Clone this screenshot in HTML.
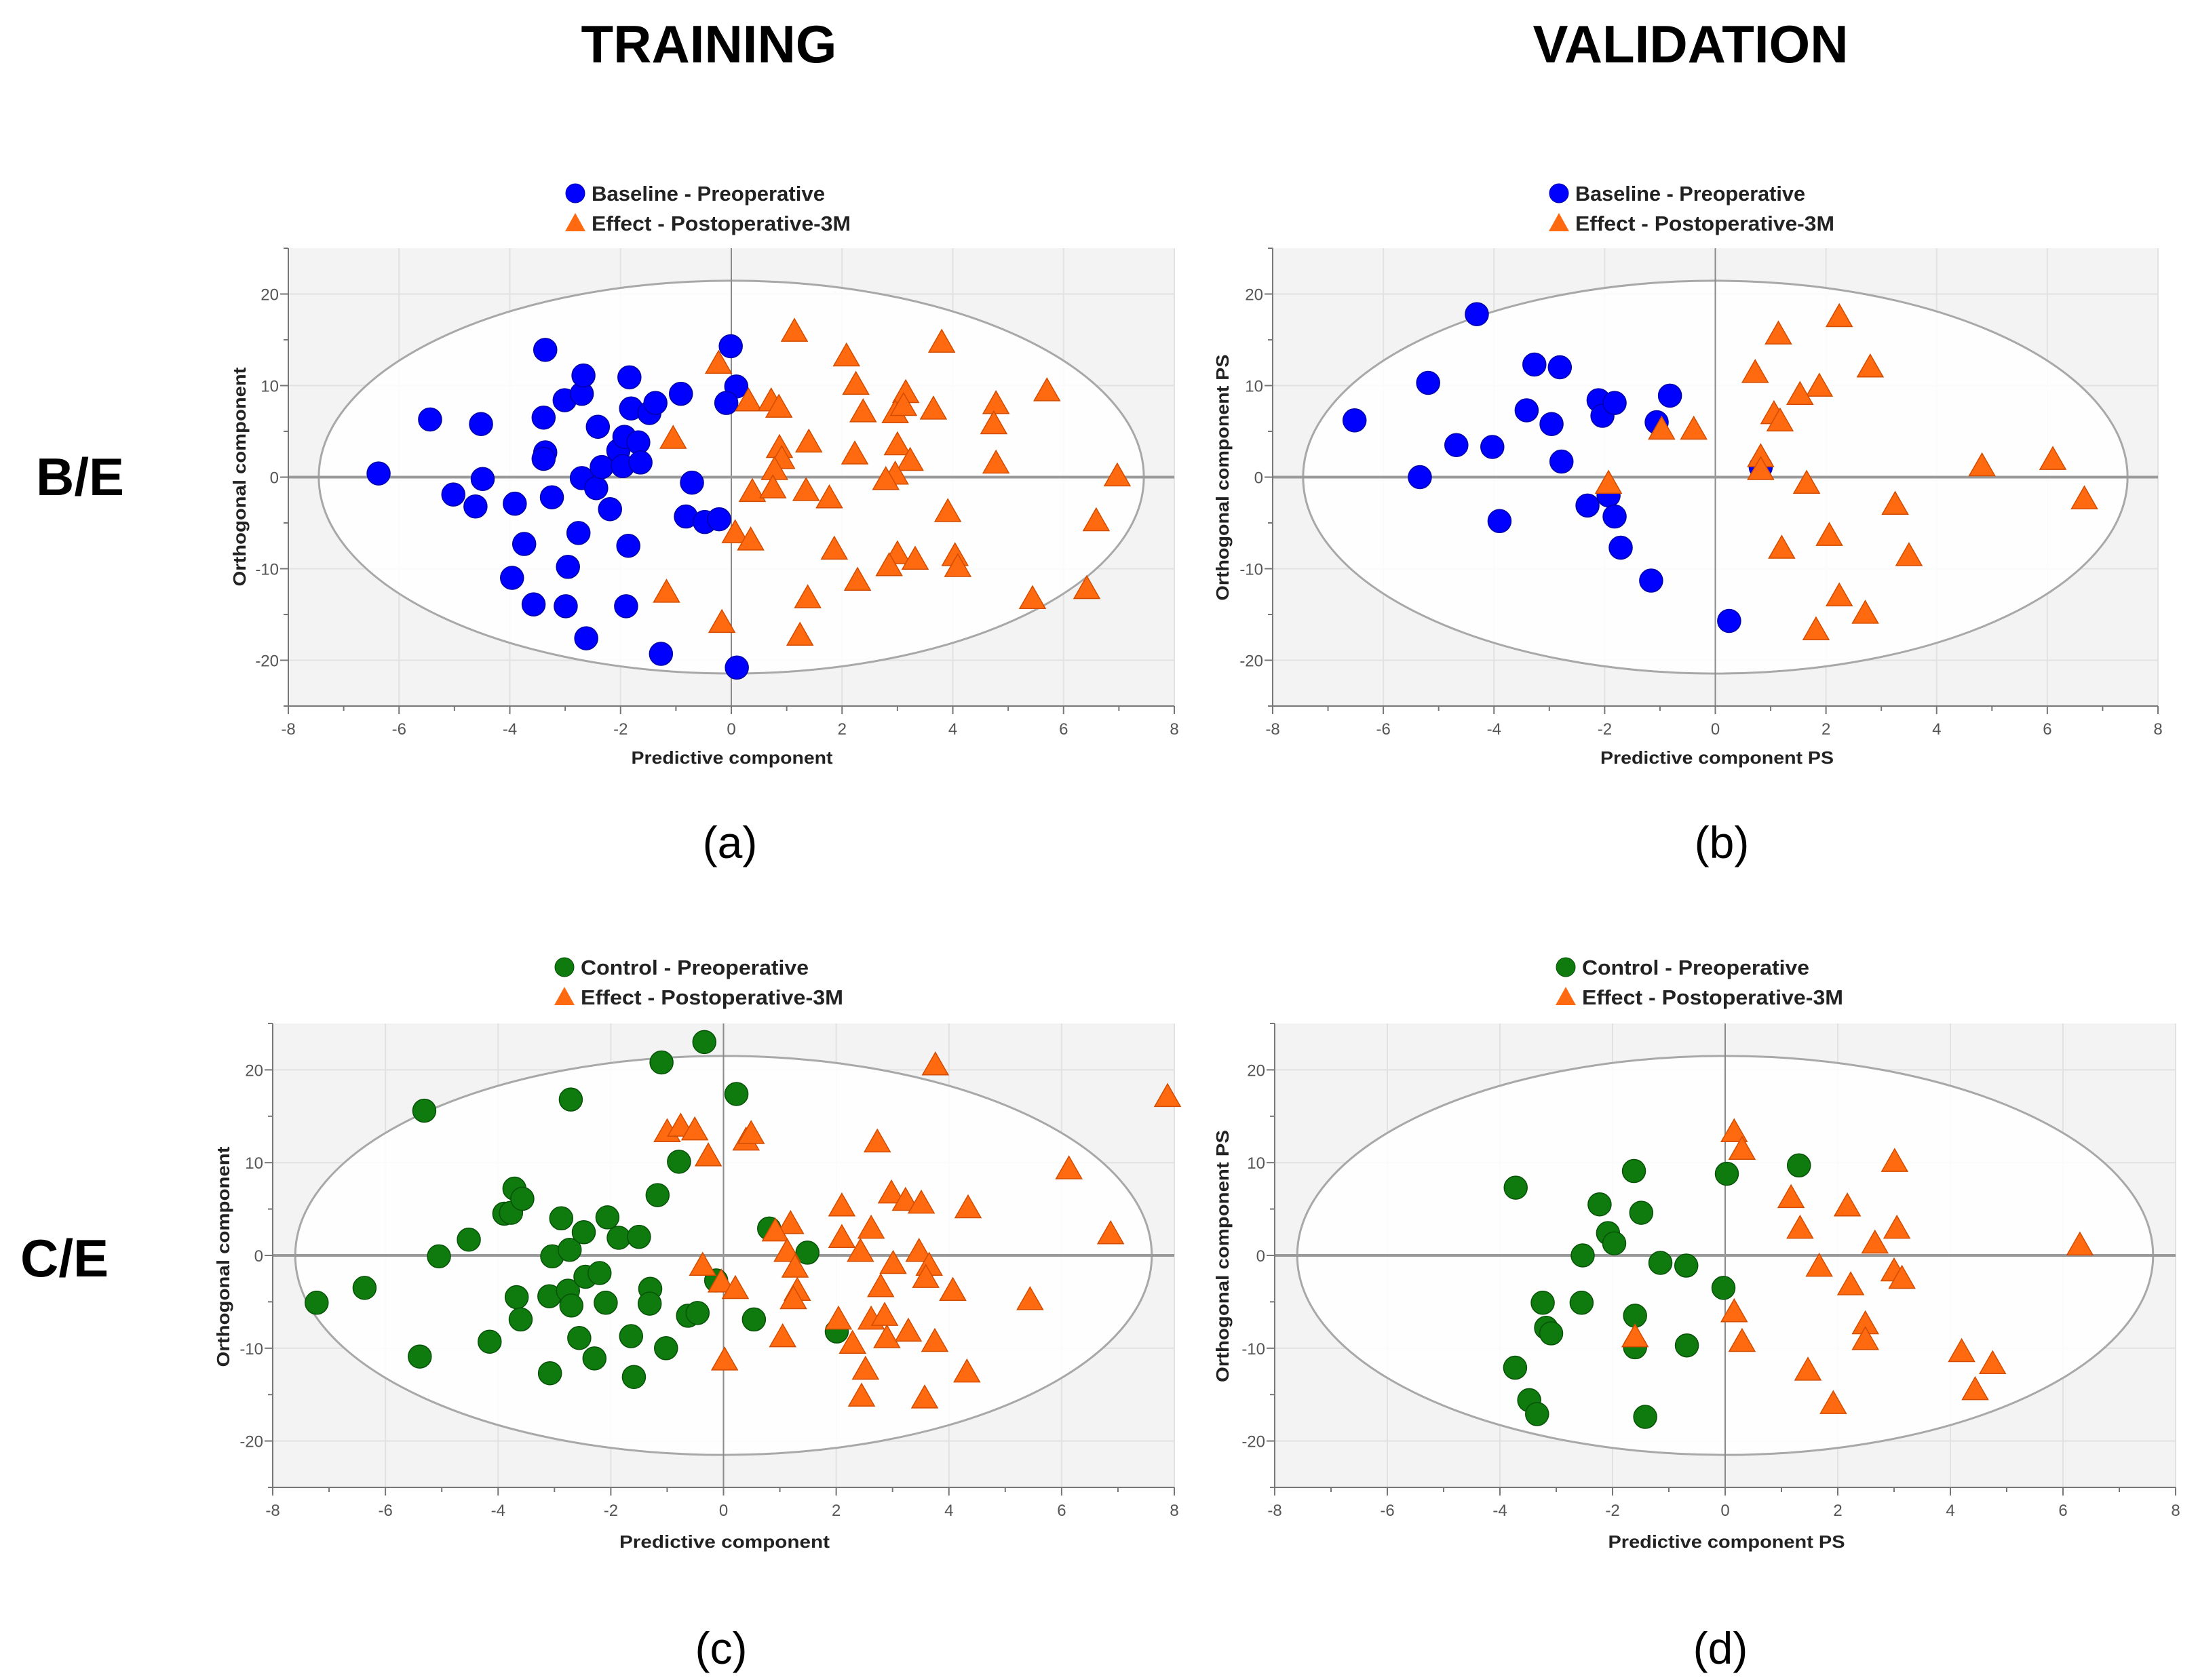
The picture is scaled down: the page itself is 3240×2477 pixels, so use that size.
<!DOCTYPE html>
<html><head><meta charset="utf-8"><style>
html,body{margin:0;padding:0;background:#fff;}
svg{display:block;}
text{font-family:"Liberation Sans",Arial,sans-serif;}
</style></head><body>
<svg id="fig" width="3240" height="2477" viewBox="0 0 3240 2477" xmlns="http://www.w3.org/2000/svg">
<rect width="3240" height="2477" fill="#fff"/>
<text x="1045" y="92" font-size="78" font-weight="bold" text-anchor="middle">TRAINING</text>
<text x="2492" y="92" font-size="78" font-weight="bold" text-anchor="middle">VALIDATION</text>
<text x="118" y="730" font-size="78" font-weight="bold" text-anchor="middle">B/E</text>
<text x="95" y="1882" font-size="78" font-weight="bold" text-anchor="middle">C/E</text>
<text x="1076" y="1265" font-size="66" text-anchor="middle">(a)</text>
<text x="2538" y="1265" font-size="66" text-anchor="middle">(b)</text>
<text x="1063" y="2453" font-size="66" text-anchor="middle">(c)</text>
<text x="2536" y="2453" font-size="66" text-anchor="middle">(d)</text>
</svg>
<script>
// x ticks and y ticks
const xTicks = [-8,-6,-4,-2,0,2,4,6,8];
const yTicks = [-20,-10,0,10,20];
// Panel a data
const aBlueX = [-6.37,-5.44,-4.52,-4.49,-5.02,-4.62,-3.91,-3.74,-3.96,-3.57,-3.36,-3.39,-3.36,-3.39,-3.24,-3.01,-2.70,-2.67,-2.70,-2.76,-2.95,-2.99,-2.62,-2.41,-2.44,-2.34,-2.19,-2.04,-1.93,-1.96,-1.84,-1.81,-1.68,-1.64,-1.48,-1.37,-1.86,-1.90,-1.27,-0.91,-0.71,-0.82,-0.48,-0.22,-0.01,0.09,-0.09,0.10];
const aBlueY = [0.4,6.3,5.8,-0.2,-1.9,-3.2,-2.9,-7.3,-11.0,-13.9,13.9,6.5,2.7,2.0,-2.2,8.4,9.1,11.1,-0.1,-6.1,-9.8,-14.1,-17.6,5.5,-1.2,1.1,-3.5,2.9,4.4,1.2,10.9,7.5,3.8,1.6,7.0,8.1,-7.5,-14.1,-19.3,9.1,-0.6,-4.3,-4.9,-4.6,14.3,9.9,8.1,-20.8];
const aOrX = [1.14,-0.23,2.08,3.80,2.25,3.15,5.70,4.78,0.31,0.72,0.86,2.38,3.65,2.96,3.11,4.74,-1.05,1.40,0.87,3.00,2.23,3.23,0.91,4.78,0.78,6.97,2.96,2.79,0.38,0.75,1.35,1.77,3.91,6.59,0.07,0.35,1.86,3.00,2.85,3.32,4.04,4.09,-1.17,2.28,6.42,1.38,5.44,-0.17,1.24];
const aOrY = [15.9,12.4,13.2,14.7,10.1,9.2,9.4,8.0,8.3,8.3,7.6,7.1,7.4,7.0,7.8,5.8,4.2,3.8,3.2,3.5,2.5,1.8,2.0,1.5,0.8,0.1,0.3,-0.3,-1.6,-1.2,-1.5,-2.3,-3.8,-4.8,-6.1,-6.9,-7.9,-8.4,-9.7,-9.0,-8.6,-9.8,-12.6,-11.3,-12.2,-13.2,-13.3,-15.9,-17.3];
// Panel b data
const bBlueX = [-6.52,-5.19,-5.34,-4.68,-4.31,-4.03,-3.90,-3.41,-3.27,-2.81,-2.96,-2.78,-2.31,-2.11,-2.04,-1.82,-1.93,-1.82,-1.71,-1.16,-1.06,-0.82,0.82,0.25];
const bBlueY = [6.2,10.3,0.0,3.5,17.8,3.3,-4.8,7.3,12.3,12.0,5.8,1.7,-3.1,8.4,6.7,8.1,-2.0,-4.3,-7.7,-11.3,6.0,8.9,1.1,-15.7];
const bOrX = [-1.93,-0.97,-0.39,0.72,1.14,2.24,2.80,1.88,1.53,1.06,1.17,0.82,0.82,1.65,4.82,6.10,6.67,3.25,2.06,1.20,3.50,2.24,2.71,1.82];
const bOrY = [-0.7,5.2,5.2,11.4,15.6,17.5,12.0,9.9,9.0,6.9,6.1,2.2,0.8,-0.7,1.2,1.9,-2.4,-3.0,-6.4,-7.8,-8.6,-13.0,-14.9,-16.7];
// Panel c data
const cGreenX = [-7.22,-6.37,-5.39,-5.31,-5.05,-4.52,-4.15,-3.89,-3.71,-3.77,-3.57,-3.67,-3.60,-3.08,-3.09,-3.04,-2.88,-2.73,-2.76,-2.70,-2.71,-2.56,-2.48,-2.45,-2.29,-2.20,-2.09,-2.06,-1.86,-1.64,-1.59,-1.50,-1.30,-1.31,-1.17,-1.10,-1.02,-0.79,-0.63,-0.46,-0.34,-0.13,0.23,0.54,0.81,1.49,2.01];
const cGreenY = [-5.1,-3.5,-10.9,15.6,-0.1,1.7,-9.3,4.5,7.2,4.6,6.1,-4.5,-6.9,-12.7,-4.4,-0.1,4.0,0.6,-3.8,-5.4,16.8,-8.9,2.5,-2.3,-11.1,-1.9,-5.1,4.1,1.9,-8.7,-13.1,2.0,-3.6,-5.2,6.5,20.8,-10.0,10.1,-6.5,-6.2,23.0,-2.7,17.4,-6.9,2.9,0.3,-8.2];
const cOrX = [-1.00,-0.76,-0.51,-0.27,0.40,0.49,3.76,7.88,2.73,6.13,2.98,3.23,3.51,2.10,4.34,1.19,0.92,2.62,6.87,2.10,2.43,1.13,3.47,-0.37,3.01,3.65,1.27,3.59,-0.04,0.21,2.79,1.31,1.24,4.07,5.44,2.04,2.62,2.86,3.28,2.90,1.05,2.29,3.75,0.02,2.52,4.32,2.45,3.57];
const cOrY = [13.3,13.9,13.5,10.7,12.4,13.1,20.5,17.1,12.2,9.3,6.7,5.9,5.6,5.3,5.1,3.4,2.6,2.9,2.3,1.9,0.4,0.4,0.4,-1.1,-0.9,-1.1,-1.3,-2.4,-2.9,-3.6,-3.4,-3.8,-4.7,-3.8,-4.8,-6.9,-6.9,-6.5,-8.2,-8.9,-8.8,-9.5,-9.3,-11.3,-12.3,-12.6,-15.2,-15.4];
// Panel d data
const dGreenX = [-3.72,-3.73,-3.48,-3.34,-3.24,-3.18,-3.09,-2.55,-2.53,-2.23,-2.08,-1.97,-1.62,-1.49,-1.60,-1.60,-1.42,-1.15,-0.69,-0.68,-0.03,0.03,1.31];
const dGreenY = [7.3,-12.1,-15.6,-17.1,-5.1,-7.8,-8.4,-5.1,0.0,5.5,2.4,1.3,9.1,4.6,-6.5,-9.9,-17.4,-0.8,-1.1,-9.7,-3.5,8.8,9.7];
const dOrX = [0.16,0.30,3.01,1.17,2.17,1.33,3.05,2.66,6.30,1.67,3.00,3.14,2.23,0.16,2.49,2.49,-1.60,0.30,4.20,4.75,1.47,4.44,1.92];
const dOrY = [13.3,11.4,10.1,6.2,5.3,2.9,2.9,1.3,1.1,-1.2,-1.7,-2.5,-3.2,-6.1,-7.4,-9.1,-8.8,-9.3,-10.4,-11.7,-12.4,-14.5,-16.0];

const NS = "http://www.w3.org/2000/svg";
const svg = document.getElementById('fig');
function mk(tag, attrs, parent){
  const e = document.createElementNS(NS, tag);
  for (const k in attrs) e.setAttribute(k, attrs[k]);
  (parent||svg).appendChild(e);
  return e;
}
const panels = [
  {id:'a', L:425, R:1731, T:366, B:1041, ex:7.45, ey:21.45, circ:'#0000ff', circEdge:'#0000aa', leg1:'Baseline - Preoperative', legX:848, legY:285, t1w:344, t2w:382, xl:'Predictive component', xlx:1079, xly:1126, xlw:297, yl:'Orthogonal component', ylx:362, yly:703, ylw:323, cx:aBlueX, cy:aBlueY, ox:aOrX, oy:aOrY},
  {id:'b', L:1876, R:3181, T:366, B:1041, ex:7.45, ey:21.45, circ:'#0000ff', circEdge:'#0000aa', leg1:'Baseline - Preoperative', legX:2298, legY:285, t1w:339, t2w:382, xl:'Predictive component PS', xlx:2531, xly:1126, xlw:344, yl:'Orthogonal component PS', ylx:1811, yly:704, ylw:363, cx:bBlueX, cy:bBlueY, ox:bOrX, oy:bOrY},
  {id:'c', L:402, R:1731, T:1509, B:2193, ex:7.6, ey:21.5, circ:'#0f7b0f', circEdge:'#065206', leg1:'Control - Preoperative', legX:832, legY:1426, t1w:336, t2w:387, xl:'Predictive component', xlx:1068, xly:2282, xlw:310, yl:'Orthogonal component', ylx:338, yly:1853, ylw:325, cx:cGreenX, cy:cGreenY, ox:cOrX, oy:cOrY},
  {id:'d', L:1879, R:3207, T:1509, B:2193, ex:7.6, ey:21.5, circ:'#0f7b0f', circEdge:'#065206', leg1:'Control - Preoperative', legX:2308, legY:1426, t1w:335, t2w:385, xl:'Predictive component PS', xlx:2545, xly:2282, xlw:349, yl:'Orthogonal component PS', ylx:1811, yly:1852, ylw:372, cx:dGreenX, cy:dGreenY, ox:dOrX, oy:dOrY}
];
const ORANGE = '#ff6a10', ORANGE_EDGE = '#d24c00';
function tri(g, x, y){
  const s = 19;
  const p = mk('polygon', {points:`${x},${y-s} ${x-s},${y+s*0.75} ${x+s},${y+s*0.75}`, fill:ORANGE, stroke:ORANGE_EDGE, 'stroke-width':1.5}, g);
  return p;
}
panels.forEach(p => {
  const sx = v => p.L + (v + 8) / 16 * (p.R - p.L);
  const sy = v => p.B - (v + 25) / 50 * (p.B - p.T);
  const g = mk('g', {});
  
  
  const bg = mk('rect', {x:p.L, y:p.T, width:p.R-p.L, height:p.B-p.T, fill:'#f3f3f3'}, g);
  
  
  xTicks.forEach(t => { const l = mk('line', {x1:sx(t), x2:sx(t), y1:p.T, y2:p.B, stroke:'#e2e2e2', 'stroke-width':2}, g);   });
  yTicks.forEach(t => { const l = mk('line', {x1:p.L, x2:p.R, y1:sy(t), y2:sy(t), stroke:'#e2e2e2', 'stroke-width':2}, g);   });
  const el = mk('ellipse', {cx:sx(0), cy:sy(0), rx:(sx(p.ex)-sx(0)), ry:(sy(0)-sy(p.ey)), fill:'#fff', 'fill-opacity':0.85, stroke:'#a8a8a8', 'stroke-width':3}, g);
  
  
  const vz = mk('line', {x1:sx(0), x2:sx(0), y1:p.T, y2:p.B, stroke:'#8a8a8a', 'stroke-width':2}, g);
  
  
  const hz = mk('line', {x1:p.L, x2:p.R, y1:sy(0), y2:sy(0), stroke:'#9a9a9a', 'stroke-width':4}, g);
  
  
  // axes
  const xa = mk('line', {x1:p.L, x2:p.R, y1:p.B, y2:p.B, stroke:'#777', 'stroke-width':2}, g);
  
  
  const ya = mk('line', {x1:p.L, x2:p.L, y1:p.T, y2:p.B, stroke:'#777', 'stroke-width':2}, g);
  
  
  for (let v=-8; v<=8; v++) mk('line', {x1:sx(v), x2:sx(v), y1:p.B, y2:p.B+(v%2===0?12:7), stroke:'#777', 'stroke-width':2}, g);
  for (let v=-25; v<=25; v+=5) mk('line', {x1:p.L-(v%10===0?12:7), x2:p.L, y1:sy(v), y2:sy(v), stroke:'#777', 'stroke-width':2}, g);
  xTicks.forEach(t => { const tx = mk('text', {x:sx(t), y:p.B+42, 'font-size':24, fill:'#555', 'text-anchor':'middle'}, g); tx.textContent = t;   });
  yTicks.forEach(t => { const tx = mk('text', {x:p.L-14, y:sy(t)+9, 'font-size':24, fill:'#555', 'text-anchor':'end'}, g); tx.textContent = t;   });
  // axis titles
  const xt = mk('text', {x:p.xlx, y:p.xly, 'font-size':26, 'font-weight':'bold', fill:'#222', 'text-anchor':'middle', textLength:p.xlw, lengthAdjust:'spacingAndGlyphs'}, g);
  xt.textContent = p.xl;
  
  
  const yt = mk('text', {x:0, y:0, 'font-size':26, 'font-weight':'bold', fill:'#222', 'text-anchor':'middle', textLength:p.ylw, lengthAdjust:'spacingAndGlyphs', transform:`translate(${p.ylx},${p.yly}) rotate(-90)`}, g);
  yt.textContent = p.yl;
  
  
  // points
  p.cx.forEach((v,i) => {
    const c = mk('circle', {cx:sx(v), cy:sy(p.cy[i]), r:17, fill:p.circ, stroke:p.circEdge, 'stroke-width':1.5}, g);
    
    
  });
  p.ox.forEach((v,i) => {
    const t = tri(g, sx(v), sy(p.oy[i]));
    
    
  });
  // legend
  const lg = mk('g', {}, g);
  
  
  const lc = mk('circle', {cx:p.legX, cy:p.legY, r:14, fill:p.circ, stroke:p.circEdge, 'stroke-width':1}, lg);
  
  
  const lt = mk('polygon', {points:`${p.legX},${p.legY+44-15} ${p.legX-15},${p.legY+44+12} ${p.legX+15},${p.legY+44+12}`, fill:ORANGE}, lg);
  
  
  const t1 = mk('text', {x:p.legX+24, y:p.legY+11, 'font-size':31, 'font-weight':'bold', fill:'#222', textLength:p.t1w, lengthAdjust:'spacingAndGlyphs'}, lg);
  t1.textContent = p.leg1;
  
  
  const t2 = mk('text', {x:p.legX+24, y:p.legY+55, 'font-size':31, 'font-weight':'bold', fill:'#222', textLength:p.t2w, lengthAdjust:'spacingAndGlyphs'}, lg);
  t2.textContent = 'Effect - Postoperative-3M';
  
  
});
</script>
</body></html>
